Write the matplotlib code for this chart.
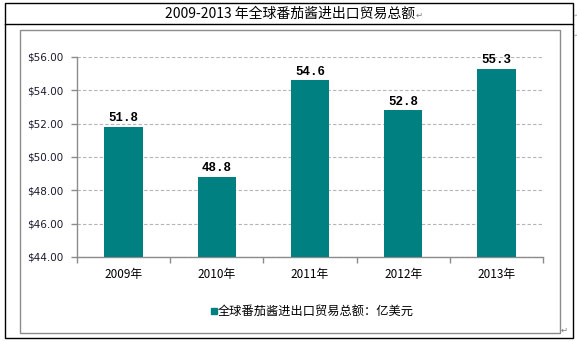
import matplotlib
matplotlib.use("Agg")
import matplotlib.pyplot as plt
from matplotlib.patches import Rectangle
from matplotlib.lines import Line2D

plt.rcParams['font.family'] = ['Noto Sans CJK SC', 'DejaVu Sans']

# data
years = ['2009年', '2010年', '2011年', '2012年', '2013年']
values = [51.8, 48.8, 54.6, 52.8, 55.3]
yticks = [44, 46, 48, 50, 52, 54, 56]
title = '2009-2013 年全球番茄酱进出口贸易总额'
legend_label = '全球番茄酱进出口贸易总额：亿美元'

W, H = 577, 342
fig = plt.figure(figsize=(W / 100, H / 100), dpi=100)


def fx(px):
    return px / W


def fy(py):
    return 1 - py / H


# outer table box and title row
fig.patches.append(Rectangle((fx(5), fy(338)), fx(573) - fx(5), fy(3) - fy(338),
                             transform=fig.transFigure, fill=False,
                             edgecolor='black', lw=1.0))
fig.lines.append(Line2D([fx(5), fx(573)], [fy(24), fy(24)],
                        transform=fig.transFigure, color='black', lw=1.0))
# inner chart frame
fig.patches.append(Rectangle((fx(20), fy(333)), fx(560) - fx(20), fy(30) - fy(333),
                             transform=fig.transFigure, fill=False,
                             edgecolor='#8c8c8c', lw=1.0))

fig.text(fx(290), fy(14), title, ha='center', va='center', fontsize=10)
fig.text(fx(416), fy(15), '↵', ha='left', va='center', fontsize=6,
         color='#777777', family=['DejaVu Sans'])
fig.text(fx(573.5), fy(15), '↵', ha='left', va='center', fontsize=3.5,
         color='#999999', family=['DejaVu Sans'])
fig.text(fx(573.5), fy(35), '↵', ha='left', va='center', fontsize=3.5,
         color='#999999', family=['DejaVu Sans'])
fig.text(fx(561), fy(330), '↵', ha='left', va='center', fontsize=6,
         color='#777777', family=['DejaVu Sans'])

ax = fig.add_axes([fx(77), fy(257), fx(543) - fx(77), fy(57) - fy(257)])
x = list(range(len(years)))
bars = ax.bar(x, values, width=0.41, color='#008080', zorder=3)

ax.set_xlim(-0.5, len(years) - 0.5)
ax.set_ylim(44, 56)
ax.set_yticks(yticks)
ax.set_yticklabels([f'${v:.2f}' for v in yticks], family=['DejaVu Sans'],
                   fontsize=7.5, color='#1a1a2e')
ax.set_xticks(x)
ax.set_xticklabels(years, fontsize=8.5)
ax.set_xticks([i - 0.5 for i in range(len(years) + 1)], minor=True)
ax.tick_params(axis='x', which='major', length=0, pad=8)
ax.tick_params(axis='x', which='minor', length=4, color='#8c8c8c', width=1)
ax.tick_params(axis='y', length=4, color='#8c8c8c', width=1, pad=6)

ax.grid(axis='y', color='#b4b4b4', linestyle=(0, (3, 2)), lw=0.8, zorder=0)
for side in ['top', 'right']:
    ax.spines[side].set_visible(False)
for side in ['left', 'bottom']:
    ax.spines[side].set_color('#8c8c8c')
    ax.spines[side].set_linewidth(1.0)

for b, v in zip(bars, values):
    ax.annotate(f'{v:.1f}', (b.get_x() + b.get_width() / 2, v),
                xytext=(0, 2), textcoords='offset points', ha='center', va='bottom',
                fontsize=9, fontweight='bold', family=['Liberation Mono'])

# legend drawn by hand to match the original layout
fig.patches.append(Rectangle((fx(211), fy(314)), fx(217) - fx(211), fy(308) - fy(314),
                             transform=fig.transFigure, color='#008080'))
fig.text(fx(218), fy(311), legend_label, ha='left', va='center', fontsize=8.8)

fig.savefig('out.png', dpi=100)
